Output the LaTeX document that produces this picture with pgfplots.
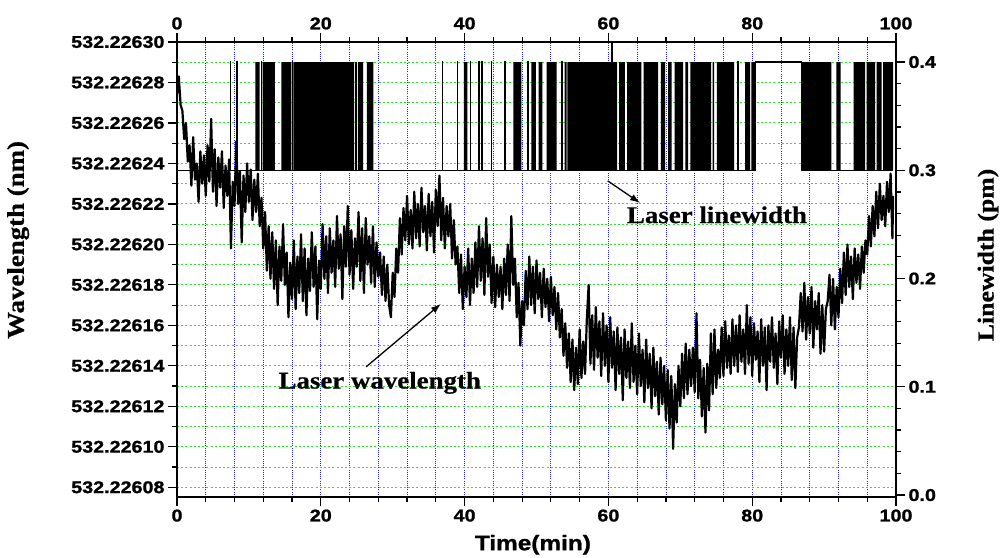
\documentclass[border=0pt]{standalone}
\usepackage{pgfplots}
\pgfplotsset{compat=1.18}
\usepackage{pgfplotstable}
\usetikzlibrary{arrows.meta}
\usepackage{fontspec}
\setmainfont{Liberation Serif}
\newfontfamily\ticksf[FakeStretch=1.16, FakeBold=1.2]{Liberation Sans}
\newfontfamily\labserif[FakeStretch=1.12, FakeBold=0.6]{Liberation Serif}
\definecolor{gridgreen}{RGB}{40,230,40}
\definecolor{gridblue}{RGB}{30,30,240}

\pgfplotstableread{
x y
0.00 27.4
0.25 28.3
0.50 26.9
0.75 26.6
1.00 25.2
1.25 26.0
1.50 24.1
1.75 24.9
2.00 22.9
2.25 25.3
2.50 23.2
2.75 24.0
3.00 22.1
3.25 24.6
3.50 23.0
3.75 24.4
4.00 22.4
4.25 24.9
4.50 23.1
4.75 26.2
5.00 22.6
5.25 24.7
5.50 21.9
5.75 24.3
6.00 22.8
6.25 24.6
6.50 21.8
6.75 23.9
7.00 22.4
7.25 24.2
7.50 19.8
7.75 23.1
8.00 21.9
8.25 25.1
8.50 22.0
8.75 23.6
9.00 20.1
9.25 23.4
9.50 21.6
9.75 24.0
10.00 22.1
10.25 23.7
10.50 21.2
10.75 23.2
11.00 21.6
11.25 23.5
11.50 20.9
11.75 22.3
12.00 19.8
12.25 21.6
12.50 18.7
12.75 20.9
13.00 18.3
13.25 20.6
13.50 17.8
13.75 20.2
14.00 17.0
14.25 19.9
14.50 18.2
14.75 21.0
15.00 18.0
15.25 19.6
15.50 16.4
15.75 19.1
16.00 17.3
16.25 20.2
16.50 16.8
16.75 19.4
17.00 17.6
17.25 20.5
17.50 17.2
17.75 19.8
18.00 16.5
18.25 19.3
18.50 17.7
18.75 20.6
19.00 17.9
19.25 19.9
19.50 16.3
19.75 19.2
20.00 17.8
20.25 21.0
20.50 18.3
20.75 20.4
21.00 17.6
21.25 20.8
21.50 18.6
21.75 20.2
22.00 17.9
22.25 21.4
22.50 18.8
22.75 20.5
23.00 17.3
23.25 20.9
23.50 18.9
23.75 21.9
24.00 18.5
24.25 20.7
24.50 17.8
24.75 20.3
25.00 18.9
25.25 21.6
25.50 18.2
25.75 20.8
26.00 17.6
26.25 21.3
26.50 19.0
26.75 20.4
27.00 18.1
27.25 20.9
27.50 17.9
27.75 20.1
28.00 18.4
28.25 19.6
28.50 17.5
28.75 19.4
29.00 17.2
29.25 19.0
29.50 17.0
29.75 16.4
30.00 18.6
30.25 17.4
30.50 19.8
30.75 18.6
31.00 21.3
31.25 19.5
31.50 21.8
31.75 20.2
32.00 22.4
32.25 20.0
32.50 21.7
32.75 19.8
33.00 22.6
33.25 20.3
33.50 22.0
33.75 19.9
34.00 22.8
34.25 20.6
34.50 21.9
34.75 19.7
35.00 22.5
35.25 20.4
35.50 22.1
35.75 19.6
36.00 22.7
36.25 20.9
36.50 23.4
36.75 20.2
37.00 22.3
37.25 19.8
37.50 21.9
37.75 20.4
38.00 22.0
38.25 19.3
38.50 21.2
38.75 19.0
39.00 19.9
39.25 17.6
39.50 19.5
39.75 16.8
40.00 18.9
40.25 17.4
40.50 19.8
40.75 17.0
41.00 19.3
41.25 17.6
41.50 20.1
41.75 17.9
42.00 20.9
42.25 18.2
42.50 20.3
42.75 17.5
43.00 21.3
43.25 18.4
43.50 20.0
43.75 17.1
44.00 19.4
44.25 16.9
44.50 19.0
44.75 17.4
45.00 18.9
45.25 16.8
45.50 19.3
45.75 17.5
46.00 20.0
46.25 17.2
46.50 21.4
46.75 18.0
47.00 19.3
47.25 16.4
47.50 18.1
47.75 15.0
48.00 17.2
48.25 16.0
48.50 18.7
48.75 16.8
49.00 19.4
49.25 17.0
49.50 18.9
49.75 16.6
50.00 19.2
50.25 17.3
50.50 18.6
50.75 16.4
51.00 18.8
51.25 16.9
51.50 18.3
51.75 16.2
52.00 18.4
52.25 16.5
52.50 17.9
52.75 15.8
53.00 17.6
53.25 15.4
53.50 16.8
53.75 14.5
54.00 16.1
54.25 13.9
54.50 15.6
54.75 13.2
55.00 15.3
55.25 12.8
55.50 14.9
55.75 13.1
56.00 15.8
56.25 13.4
56.50 15.2
56.75 13.6
57.00 16.3
57.25 18.0
57.50 14.1
57.75 16.5
58.00 13.8
58.25 16.9
58.50 14.4
58.75 16.2
59.00 13.5
59.25 16.6
59.50 14.0
59.75 16.0
60.00 13.2
60.25 16.4
60.50 13.9
60.75 15.7
61.00 12.8
61.25 15.9
61.50 13.6
61.75 15.4
62.00 12.3
62.25 15.8
62.50 13.4
62.75 15.2
63.00 12.9
63.25 16.1
63.50 13.2
63.75 15.0
64.00 12.6
64.25 15.6
64.50 13.0
64.75 14.8
65.00 12.2
65.25 15.3
65.50 12.9
65.75 14.6
66.00 11.9
66.25 14.9
66.50 12.5
66.75 14.2
67.00 11.6
67.25 14.4
67.50 12.1
67.75 14.0
68.00 11.3
68.25 13.8
68.50 10.9
68.75 13.5
69.00 9.9
69.25 13.1
69.50 11.2
69.75 14.0
70.00 12.0
70.25 14.6
70.50 12.4
70.75 15.1
71.00 12.6
71.25 14.8
71.50 13.0
71.75 14.9
72.00 12.7
72.25 16.6
72.50 12.4
72.75 14.3
73.00 11.5
73.25 13.9
73.50 10.7
73.75 14.1
74.00 11.8
74.25 15.6
74.50 12.6
74.75 15.8
75.00 12.9
75.25 14.8
75.50 13.4
75.75 15.9
76.00 13.5
76.25 16.2
76.50 13.9
76.75 15.5
77.00 13.6
77.25 16.3
77.50 14.0
77.75 16.0
78.00 13.7
78.25 16.5
78.50 14.2
78.75 15.8
79.00 13.6
79.25 17.0
79.50 14.1
79.75 16.4
80.00 13.5
80.25 16.1
80.50 14.3
80.75 15.7
81.00 13.2
81.25 16.3
81.50 14.0
81.75 15.9
82.00 12.8
82.25 16.0
82.50 14.2
82.75 16.4
83.00 13.9
83.25 15.6
83.50 13.1
83.75 16.2
84.00 14.4
84.25 16.5
84.50 13.6
84.75 15.8
85.00 14.0
85.25 16.4
85.50 13.3
85.75 15.9
86.00 12.9
86.25 15.4
86.50 15.9
86.75 17.6
87.00 15.7
87.25 18.1
87.50 15.3
87.75 17.4
88.00 15.6
88.25 17.9
88.50 14.9
88.75 17.2
89.00 15.8
89.25 17.6
89.50 14.6
89.75 17.0
90.00 14.7
90.25 16.8
90.50 17.2
90.75 18.5
91.00 16.0
91.25 18.3
91.50 15.8
91.75 17.9
92.00 16.4
92.25 18.8
92.50 17.1
92.75 19.6
93.00 17.5
93.25 20.0
93.50 17.9
93.75 19.4
94.00 17.3
94.25 19.8
94.50 18.1
94.75 19.5
95.00 17.8
95.25 19.9
95.50 18.6
95.75 20.2
96.00 19.5
96.25 21.4
96.50 19.9
96.75 21.9
97.00 20.4
97.25 22.6
97.50 20.8
97.75 23.0
98.00 21.2
98.25 22.4
98.50 20.9
98.75 23.1
99.00 21.6
99.25 23.5
99.50 20.3
99.60 22.4
}\wavelength

\pgfplotsset{
  common/.style={
    at={(177pt,60pt)}, anchor=south west,
    scale only axis, width=719pt, height=455pt,
    xmin=0, xmax=100,
    tick align=outside,
    major tick length=9pt, minor tick length=5pt,
    every tick/.style={line width=1.2pt, black},
    axis line style={line width=1.4pt},
    tick label style={font=\ticksf\bfseries\fontsize{17}{17}\selectfont},
    /pgf/number format/assume math mode=true,
  }
}

\begin{document}
\begin{tikzpicture}[x=1pt,y=1pt]
\path[use as bounding box] (0,0) rectangle (1001,557);

% vertical blue dotted grid
\begin{axis}[common,
  ymin=7.52, ymax=30,
  xtick={0,20,...,100}, minor x tick num=4,
  ytick=\empty, xticklabels={},
  major tick length=0pt, minor tick length=0pt,
  axis line style={draw=none},
  xmajorgrids, xminorgrids,
  major grid style={gridblue, line width=0.8pt, dash pattern=on 1pt off 1.2pt},
  minor grid style={gridblue, line width=0.8pt, dash pattern=on 1pt off 1.2pt},
]
\end{axis}

% main wavelength axis (left, bottom)
\begin{axis}[common,
  ymin=7.52, ymax=30,
  tick pos=left,
  xtick={0,20,...,100}, minor x tick num=4,
  ytick={8,10,...,30},
  yticklabels={532.22608,532.22610,532.22612,532.22614,532.22616,532.22618,532.22620,532.22622,532.22624,532.22626,532.22628,532.22630},
  minor y tick num=1,
  ymajorgrids, yminorgrids,
  major grid style={gridgreen, line width=1pt, dash pattern=on 2pt off 2.2pt},
  minor grid style={gridgreen, line width=1pt, dash pattern=on 2pt off 2.2pt},
  xlabel={Time(min)},
  xlabel style={font=\ticksf\bfseries\fontsize{21}{21}\selectfont, at={(axis description cs:0.495,-0.105)}, anchor=center},
  ylabel={Wavelength (nm)},
  ylabel style={font=\labserif\bfseries\fontsize{24}{24}\selectfont, at={(axis description cs:-0.221,0.565)}, anchor=center},
]
\addplot[black, line width=2.2pt, line join=round] table[x=x, y=y] {\wavelength};
\draw[line width=1.3pt, -{Latex[length=10pt, width=7pt]}] (axis cs:59.9,23.14) -- (axis cs:64.4,22.05);
\node[font=\labserif\bfseries\fontsize{24}{24}\selectfont] at (axis cs:75.1,21.46) {Laser linewidth};
\draw[line width=1.3pt, -{Latex[length=10pt, width=7pt]}] (axis cs:26.3,13.95) -- (axis cs:36.7,17.06);
\node[font=\labserif\bfseries\fontsize{24}{24}\selectfont] at (axis cs:28.2,13.16) {Laser wavelength};
\end{axis}

% linewidth axis (right, top)
\begin{axis}[common,
  ymin=-0.0018, ymax=0.4185,
  tick pos=right, ticklabel pos=right,
  xtick={0,20,...,100}, minor x tick num=4,
  ytick={0,0.1,0.2,0.3,0.4}, minor y tick num=4,
  yticklabel style={/pgf/number format/fixed, /pgf/number format/precision=1, /pgf/number format/fixed zerofill},
  ylabel={Linewidth (pm)},
  ylabel style={font=\labserif\bfseries\fontsize{23}{23}\selectfont, at={(axis description cs:1.128,0.532)}, anchor=center},
  unbounded coords=jump,
]
\addplot[fill=black, draw=none] coordinates {
(10.9,0.3)(11.5,0.3)(11.5,0.4)(10.9,0.4)(11,nan)
(11.9,0.3)(13.6,0.3)(13.6,0.4)(11.9,0.4)(12,nan)
(14.5,0.3)(15.9,0.3)(15.9,0.4)(14.5,0.4)(15,nan)
(16.2,0.3)(24.6,0.3)(24.6,0.4)(16.2,0.4)(17,nan)
(24.75,0.3)(25.05,0.3)(25.05,0.4)(24.75,0.4)(25,nan)
(25.2,0.3)(25.9,0.3)(25.9,0.4)(25.2,0.4)(25.5,nan)
(26.4,0.3)(27.3,0.3)(27.3,0.4)(26.4,0.4)(27,nan)
(39.9,0.3)(40.4,0.3)(40.4,0.4)(39.9,0.4)(40,nan)
(46.8,0.3)(47.9,0.3)(47.9,0.4)(46.8,0.4)(47,nan)
(49.3,0.3)(49.9,0.3)(49.9,0.4)(49.3,0.4)(49.5,nan)
(50.3,0.3)(50.8,0.3)(50.8,0.4)(50.3,0.4)(50.5,nan)
(51.4,0.3)(52.8,0.3)(52.8,0.4)(51.4,0.4)(52,nan)
(53.9,0.3)(54.2,0.3)(54.2,0.4)(53.9,0.4)(54,nan)
(54.3,0.3)(61.2,0.3)(61.2,0.4)(54.3,0.4)(55,nan)
(61.5,0.3)(62.3,0.3)(62.3,0.4)(61.5,0.4)(62,nan)
(62.6,0.3)(64.6,0.3)(64.6,0.4)(62.6,0.4)(63,nan)
(64.9,0.3)(66.9,0.3)(66.9,0.4)(64.9,0.4)(65,nan)
(67.3,0.3)(67.9,0.3)(67.9,0.4)(67.3,0.4)(67.5,nan)
(68.3,0.3)(68.8,0.3)(68.8,0.4)(68.3,0.4)(68.5,nan)
(69.2,0.3)(70.4,0.3)(70.4,0.4)(69.2,0.4)(70,nan)
(70.7,0.3)(71.1,0.3)(71.1,0.4)(70.7,0.4)(71,nan)
(71.4,0.3)(74.3,0.3)(74.3,0.4)(71.4,0.4)(72,nan)
(74.5,0.3)(74.7,0.3)(74.7,0.4)(74.5,0.4)(74.6,nan)
(75.1,0.3)(77.5,0.3)(77.5,0.4)(75.1,0.4)(76,nan)
(79.0,0.3)(79.7,0.3)(79.7,0.4)(79.0,0.4)(79.5,nan)
(79.9,0.3)(80.5,0.3)(80.5,0.4)(79.9,0.4)(80,nan)
(86.9,0.3)(91.0,0.3)(91.0,0.4)(86.9,0.4)(88,nan)
(91.7,0.3)(92.3,0.3)(92.3,0.4)(91.7,0.4)(92,nan)
(94.1,0.3)(95.7,0.3)(95.7,0.4)(94.1,0.4)(95,nan)
(95.9,0.3)(97.1,0.3)(97.1,0.4)(95.9,0.4)(96,nan)
(97.3,0.3)(98.0,0.3)(98.0,0.4)(97.3,0.4)(97.5,nan)
(98.2,0.3)(99.6,0.3)(99.6,0.4)(98.2,0.4)
};
\addplot[black, line width=1.1pt] coordinates {
(0,0.3)
(7.42,0.3)(7.42,0.4)(7.48,0.4)(7.48,0.3)
(8.35,0.3)(8.35,0.4)(8.41,0.4)(8.41,0.3)
(11.7,0.3)(11.7,0.4)(11.76,0.4)(11.76,0.3)
(16.02,0.3)(16.02,0.4)(16.08,0.4)(16.08,0.3)
(36.9,0.3)(36.9,0.4)(36.96,0.4)(36.96,0.3)
(39.0,0.3)(39.0,0.4)(39.06,0.4)(39.06,0.3)
(40.8,0.3)(40.8,0.4)(40.86,0.4)(40.86,0.3)
(42.0,0.3)(42.0,0.4)(42.06,0.4)(42.06,0.3)
(42.4,0.3)(42.4,0.4)(42.46,0.4)(42.46,0.3)
(43.7,0.3)(43.7,0.4)(43.76,0.4)(43.76,0.3)
(45.6,0.3)(45.6,0.4)(45.66,0.4)(45.66,0.3)
(48.8,0.3)(48.8,0.4)(48.86,0.4)(48.86,0.3)
(53.5,0.3)(53.5,0.4)(53.56,0.4)(53.56,0.3)
(60.5,0.3)(60.5,0.45)(60.56,0.45)(60.56,0.3)
(78.0,0.3)(78.0,0.4)(78.06,0.4)(78.06,0.3)
(80.5,0.3)(80.5,0.4)(86.9,0.4)(86.9,0.3)
(99.6,0.3)
};
\end{axis}
\end{tikzpicture}
\end{document}
